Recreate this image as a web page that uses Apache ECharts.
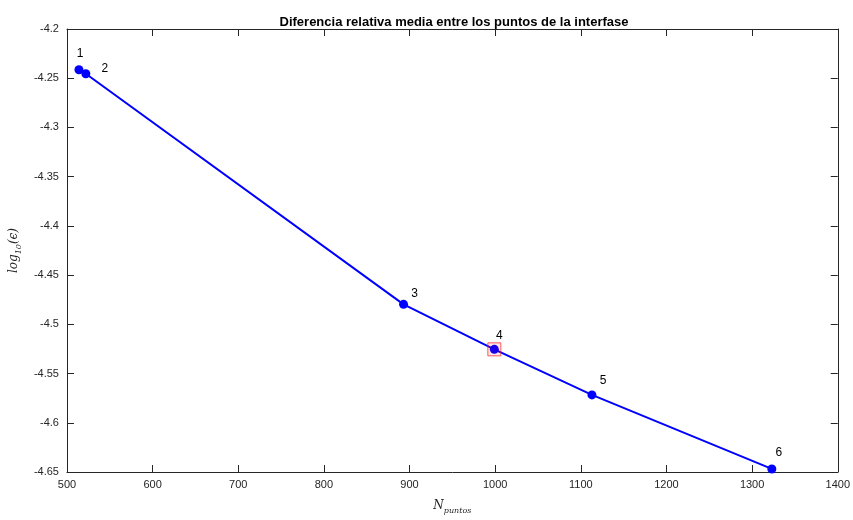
<!DOCTYPE html>
<html>
<head>
<meta charset="utf-8">
<script src="https://cdn.jsdelivr.net/npm/echarts@6/dist/echarts.min.js"></script>
<style>
html,body{margin:0;padding:0;background:#fff;}
#chart{width:853px;height:520px;}
</style>
</head>
<body>
<div id="chart"></div>
<script>
// ---- data ----
const nPuntos = [514, 522, 893, 999, 1113, 1323];
const logErr = [-4.2414, -4.2454, -4.4797, -4.5254, -4.5717, -4.6469];
const pointLabels = ['1', '2', '3', '4', '5', '6'];
const highlightIndex = 3;
const xTicks = { min: 500, max: 1400, interval: 100 };
const yTicks = { min: -4.65, max: -4.2, interval: 0.05 };

// ---- style ----
const labelOffsets = [[1, -16], [19, -5], [11, -11], [5, -14], [11, -14], [7, -16]];
const FONT = '"Liberation Sans", Arial, Helvetica, sans-serif';
const SERIF = '"DejaVu Serif", "Liberation Serif", serif';
const AX = '#262626';

const chart = echarts.init(document.getElementById('chart'), null, { renderer: 'canvas' });

const lineData = nPuntos.map((x, i) => ({
  value: [x, logErr[i]],
  label: {
    show: true,
    formatter: pointLabels[i],
    position: 'inside',
    offset: labelOffsets[i],
    color: '#000',
    fontSize: 12,
    fontFamily: FONT
  }
}));

const axisCommon = {
  axisLine: { show: true, lineStyle: { color: AX, width: 1 } },
  axisTick: { show: true, inside: true, length: 7, lineStyle: { color: AX } },
  splitLine: { show: false }
};

const nameRich = {
  i: { fontFamily: SERIF, fontStyle: 'italic', fontSize: 12, color: AX, lineHeight: 16, verticalAlign: 'bottom' },
  s: { fontFamily: SERIF, fontStyle: 'italic', fontSize: 8, color: AX, lineHeight: 12, verticalAlign: 'bottom', padding: [0, 0, -3, 0] }
};

const option = {
  backgroundColor: '#fff',
  animation: false,
  title: {
    text: 'Diferencia relativa media entre los puntos de la interfase',
    left: 449, textAlign: 'center', top: 11,
    textStyle: { fontFamily: FONT, fontSize: 13, fontWeight: 'bold', color: '#000' }
  },
  grid: { left: 59, right: 15, top: 29, bottom: 38 },
  xAxis: [
    Object.assign({
      type: 'value', position: 'bottom',
      min: xTicks.min, max: xTicks.max, interval: xTicks.interval,
      axisLabel: { color: AX, fontSize: 11, fontFamily: FONT, margin: 7, formatter: v => String(v) },
      name: '{i|N}{s|puntos}',
      nameLocation: 'middle', nameGap: 24,
      nameTextStyle: { rich: nameRich }
    }, axisCommon),
    Object.assign({
      type: 'value', position: 'top',
      min: xTicks.min, max: xTicks.max, interval: xTicks.interval,
      axisLabel: { show: false }
    }, axisCommon)
  ],
  yAxis: [
    Object.assign({
      type: 'value', position: 'left',
      min: yTicks.min, max: yTicks.max, interval: yTicks.interval,
      axisLabel: { color: AX, fontSize: 11, fontFamily: FONT, margin: 8, formatter: v => String(+v.toFixed(2)) },
      name: '{i|log}{s|10}{i|(ϵ)}',
      nameLocation: 'middle', nameGap: 36, nameRotate: 90,
      nameTextStyle: { rich: nameRich }
    }, axisCommon),
    Object.assign({
      type: 'value', position: 'right',
      min: yTicks.min, max: yTicks.max, interval: yTicks.interval,
      axisLabel: { show: false }
    }, axisCommon)
  ],
  series: [
    {
      type: 'line',
      xAxisIndex: 0, yAxisIndex: 0,
      data: lineData,
      symbol: 'circle', symbolSize: 9,
      itemStyle: { color: '#0000ff' },
      lineStyle: { color: '#0000ff', width: 2 },
      z: 3
    },
    {
      type: 'scatter',
      xAxisIndex: 0, yAxisIndex: 0,
      data: [[nPuntos[highlightIndex], logErr[highlightIndex]]],
      symbol: 'rect', symbolSize: 13,
      itemStyle: { color: 'rgba(255,0,0,0.12)', borderColor: 'rgba(255,30,30,0.9)', borderWidth: 1 },
      z: 4
    }
  ]
};
chart.setOption(option);
</script>
</body>
</html>
